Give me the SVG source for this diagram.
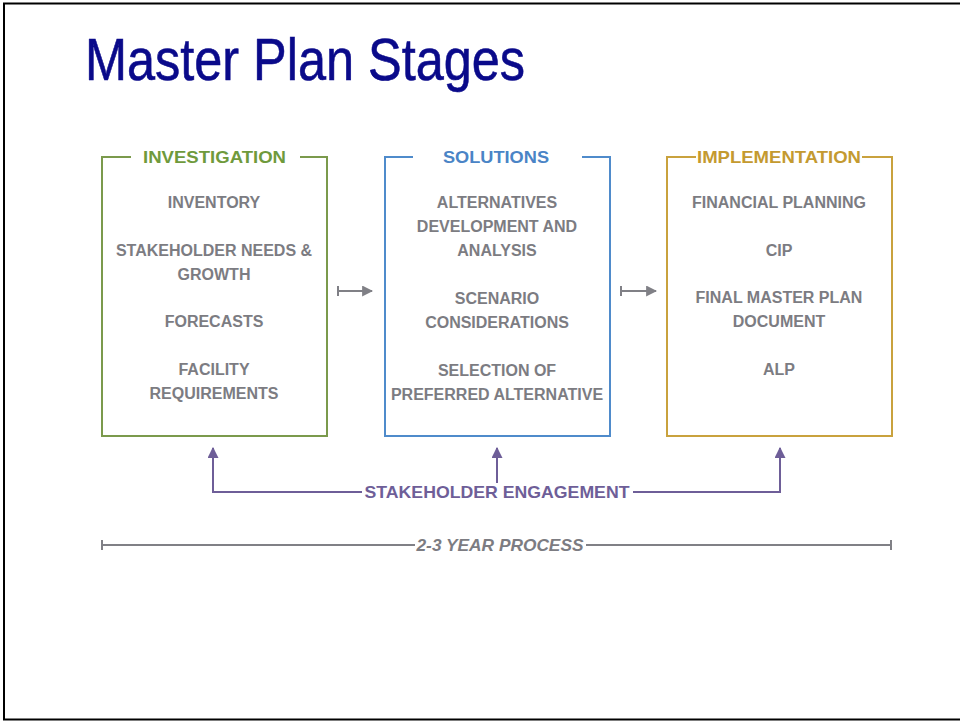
<svg xmlns="http://www.w3.org/2000/svg" width="960" height="721" viewBox="0 0 960 721">
<style>
  .item { font-family: "Liberation Sans", Arial, sans-serif; font-weight: bold; font-size: 16px; fill: #7c7c82; text-anchor: middle; }
  .hdr { font-family: "Liberation Sans", Arial, sans-serif; font-weight: bold; font-size: 17px; text-anchor: middle; }
  .box { fill: none; stroke-width: 2; }
  .gray { stroke: #808086; stroke-width: 2; fill: none; }
  .purple { stroke: #6e5e98; stroke-width: 2; fill: none; }
</style>
<defs>
  <marker id="ahGray" viewBox="0 0 10 10" refX="9" refY="5" markerWidth="11" markerHeight="11" markerUnits="userSpaceOnUse" orient="auto">
    <path d="M0,0 L10,5 L0,10 Z" fill="#808086"/>
  </marker>
  <marker id="ahPurple" viewBox="0 0 10 10" refX="9" refY="5" markerWidth="11" markerHeight="11" markerUnits="userSpaceOnUse" orient="auto">
    <path d="M0,0 L10,5 L0,10 Z" fill="#6e5e98"/>
  </marker>
</defs>
<rect x="0" y="0" width="960" height="721" fill="#ffffff"/>
<rect x="4" y="3.5" width="970" height="716" fill="none" stroke="#000000" stroke-width="2"/>
<text x="85" y="80" font-family="'Liberation Sans Narrow', 'Arial Narrow', 'Liberation Sans', Arial, sans-serif" font-size="60" fill="#0a0a8a" stroke="#0a0a8a" stroke-width="0.6" textLength="440" lengthAdjust="spacingAndGlyphs">Master Plan Stages</text>

<g id="investigation">
  <path class="box" stroke="#7b9a4c" d="M131,157 L102,157 L102,436 L327,436 L327,157 L300,157"/>
  <text class="hdr" x="214.5" y="163" fill="#6f9a3c" textLength="143" lengthAdjust="spacingAndGlyphs">INVESTIGATION</text>
  <text class="item" x="214" y="208">INVENTORY</text>
  <text class="item" x="214" y="256">STAKEHOLDER NEEDS &amp;</text>
  <text class="item" x="214" y="280">GROWTH</text>
  <text class="item" x="214" y="327">FORECASTS</text>
  <text class="item" x="214" y="375">FACILITY</text>
  <text class="item" x="214" y="399">REQUIREMENTS</text>
</g>

<g id="solutions">
  <path class="box" stroke="#4f8bcb" d="M413,157 L385,157 L385,436 L610,436 L610,157 L582,157"/>
  <text class="hdr" x="496" y="163" fill="#4a84c6" textLength="106" lengthAdjust="spacingAndGlyphs">SOLUTIONS</text>
  <text class="item" x="497" y="208">ALTERNATIVES</text>
  <text class="item" x="497" y="232">DEVELOPMENT AND</text>
  <text class="item" x="497" y="256">ANALYSIS</text>
  <text class="item" x="497" y="304">SCENARIO</text>
  <text class="item" x="497" y="328">CONSIDERATIONS</text>
  <text class="item" x="497" y="376">SELECTION OF</text>
  <text class="item" x="497" y="400">PREFERRED ALTERNATIVE</text>
</g>

<g id="implementation">
  <path class="box" stroke="#c9a23e" d="M696,157 L667,157 L667,436 L892,436 L892,157 L862,157"/>
  <text class="hdr" x="779" y="163" fill="#c49a30" textLength="164" lengthAdjust="spacingAndGlyphs">IMPLEMENTATION</text>
  <text class="item" x="779" y="208">FINANCIAL PLANNING</text>
  <text class="item" x="779" y="256">CIP</text>
  <text class="item" x="779" y="303">FINAL MASTER PLAN</text>
  <text class="item" x="779" y="327">DOCUMENT</text>
  <text class="item" x="779" y="375">ALP</text>
</g>

<g id="stakeholder-engagement">
  <text class="hdr" x="497" y="498" fill="#6e5e98" textLength="265" lengthAdjust="spacingAndGlyphs">STAKEHOLDER ENGAGEMENT</text>
</g>

<g id="process">
  <text x="500" y="551" font-family="'Liberation Sans', Arial, sans-serif" font-weight="bold" font-style="italic" font-size="17" fill="#7c7c82" text-anchor="middle" textLength="167" lengthAdjust="spacingAndGlyphs">2-3 YEAR PROCESS</text>
</g>

<g id="connectors">
  <path class="gray" d="M338,291 L372,291" marker-end="url(#ahGray)"/>
  <path class="gray" d="M338,286 L338,296"/>
  <path class="gray" d="M621,291 L656,291" marker-end="url(#ahGray)"/>
  <path class="gray" d="M621,286 L621,296"/>

  <path class="purple" d="M362,492 L213,492 L213,448" marker-end="url(#ahPurple)"/>
  <path class="purple" d="M497,483 L497,448" marker-end="url(#ahPurple)"/>
  <path class="purple" d="M633,492 L780,492 L780,448" marker-end="url(#ahPurple)"/>

  <path class="gray" d="M102,545 L415,545 M586,545 L891,545 M102,540 L102,550 M891,540 L891,550" stroke-width="1.6"/>
</g>
</svg>
